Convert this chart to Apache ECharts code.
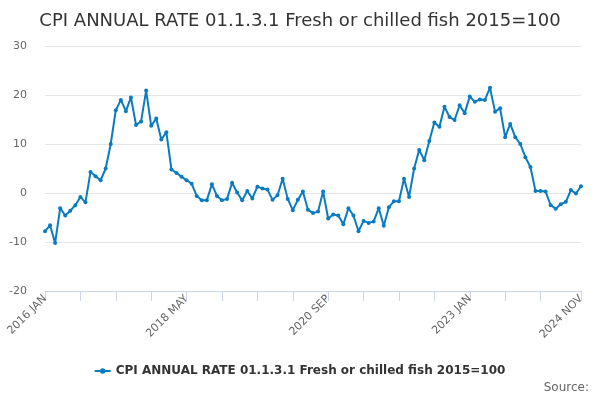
<!DOCTYPE html>
<html><head><meta charset="utf-8">
<script src="https://cdn.jsdelivr.net/npm/echarts@6/dist/echarts.min.js"></script>
<style>html,body{margin:0;padding:0;background:#fff}#c{width:600px;height:400px}</style>
</head><body><div id="c"></div>
<script>
const monthNames = ['JAN','FEB','MAR','APR','MAY','JUN','JUL','AUG','SEP','OCT','NOV','DEC'];
const startYear = 2016;
const monthCount = 107;
const categories = [];
for (let i = 0; i < monthCount; i++) {
  categories.push((startYear + Math.floor(i / 12)) + ' ' + monthNames[i % 12]);
}
const seriesName = 'CPI ANNUAL RATE 01.1.3.1 Fresh or chilled fish 2015=100';
const values = [
  -7.8, -6.6, -10.2, -3.1, -4.6, -3.6, -2.5, -0.8, -1.9, 4.3, 3.4, 2.6,
  5.0, 10.0, 16.9, 19.0, 16.7, 19.5, 13.9, 14.6, 20.9, 13.7, 15.2, 10.9,
  12.4, 4.8, 4.1, 3.3, 2.6, 1.9, -0.6, -1.5, -1.5, 1.8, -0.6, -1.5,
  -1.2, 2.1, 0.1, -1.5, 0.4, -1.1, 1.3, 0.9, 0.7, -1.4, -0.4, 2.9,
  -1.2, -3.5, -1.4, 0.3, -3.4, -4.1, -3.8, 0.3, -5.2, -4.4, -4.6, -6.4,
  -3.1, -4.6, -7.8, -5.7, -6.1, -5.8, -3.1, -6.7, -2.9, -1.7, -1.7, 2.9,
  -0.8, 5.0, 8.8, 6.7, 10.6, 14.4, 13.5, 17.6, 15.5, 14.9, 17.9, 16.3,
  19.7, 18.6, 19.1, 19.0, 21.5, 16.6, 17.3, 11.4, 14.1, 11.4, 10.0, 7.3,
  5.3, 0.4, 0.4, 0.3, -2.5, -3.2, -2.3, -1.8, 0.6, -0.1, 1.4
];
const yTicks = [-20, -10, 0, 10, 20, 30];
const sourceText = 'Source:';

const lastIdx = categories.length - 1;
const chart = echarts.init(document.getElementById('c'));
chart.setOption({
  animation: false,
  backgroundColor: '#ffffff',
  title: {
    text: seriesName, left: 'center', top: 7,
    textStyle: { fontFamily: 'DejaVu Sans', fontSize: 18, fontWeight: 'normal', color: '#333333' }
  },
  graphic: [{
    type: 'text', right: 11, top: 382,
    style: { text: sourceText, fontFamily: 'DejaVu Sans', fontSize: 12, fill: '#666666' }
  }],
  legend: {
    bottom: 18, left: 'center', itemWidth: 16, itemHeight: 6, itemGap: 5,
    data: [{ name: seriesName, icon: 'path://M0,2L16,2L16,4L0,4Z M8,0.3A2.7,2.7,0,1,1,7.99,0.3Z' }],
    textStyle: { fontFamily: 'DejaVu Sans', fontSize: 12, fontWeight: 'bold', color: '#333333' }
  },
  grid: { left: 45, right: 19, top: 46, bottom: 109, containLabel: false },
  xAxis: {
    type: 'category', data: categories, boundaryGap: false,
    axisLine: { onZero: false, lineStyle: { color: '#ccd6eb' } },
    axisTick: { length: 10, lineStyle: { color: '#ccd6eb' },
      interval: function (i) { return (i % 7 === 0 && i < 103) || i === lastIdx; } },
    axisLabel: {
      rotate: 45, color: '#666666', fontFamily: 'DejaVu Sans', fontSize: 11, margin: 6,
      interval: function (i) { return i % 28 === 0 || i === lastIdx; }
    },
    splitLine: { show: false }
  },
  yAxis: {
    type: 'value', min: yTicks[0], max: yTicks[yTicks.length - 1], interval: 10,
    axisLine: { show: false }, axisTick: { show: false },
    axisLabel: { color: '#666666', fontFamily: 'DejaVu Sans', fontSize: 11, margin: 18 },
    splitLine: { lineStyle: { color: '#e6e6e6' } }
  },
  series: [{
    name: seriesName, type: 'line', data: values,
    symbol: 'circle', symbolSize: 4, showSymbol: true, showAllSymbol: true,
    lineStyle: { width: 2, color: '#0a7bc0' },
    itemStyle: { color: '#0a7bc0' }
  }]
});
</script></body></html>
